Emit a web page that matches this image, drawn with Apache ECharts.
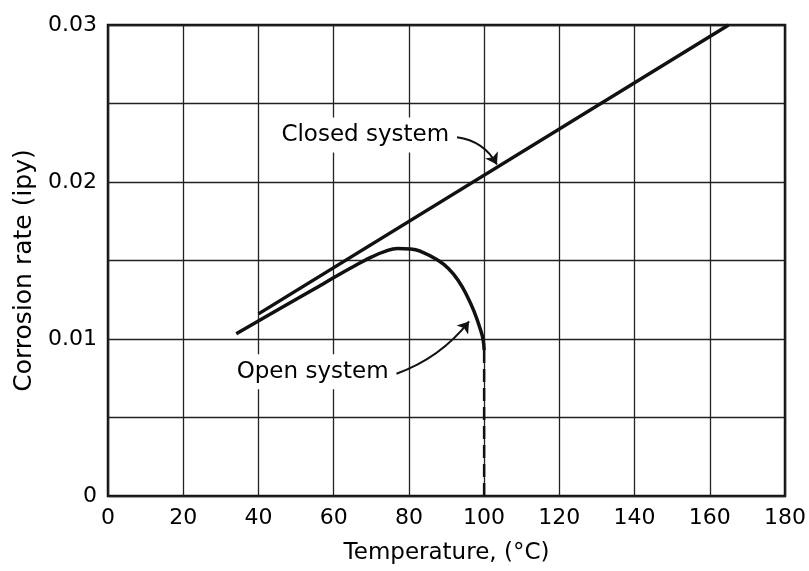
<!DOCTYPE html>
<html>
<head>
<meta charset="utf-8">
<script src="https://cdn.jsdelivr.net/npm/echarts@6/dist/echarts.min.js"></script>
<style>
html,body{margin:0;padding:0;background:#fff;}
#chart{width:809px;height:571px;}
</style>
</head>
<body>
<div id="chart"></div>
<script>
// ---- data ----
var xTickValues = [0, 20, 40, 60, 80, 100, 120, 140, 160, 180];
var yTickLabels = ['0', '0.01', '0.02', '0.03'];
var closedSystem = [[40, 0.0116], [165, 0.030]];
var openSystem = [
  [34.1, 0.01034], [44, 0.01170], [54, 0.01307], [61, 0.01404], [66, 0.01471],
  [70, 0.01521], [73.5, 0.01556], [77, 0.01576], [80.5, 0.01574], [84, 0.01549],
  [87.5, 0.01505], [90.5, 0.01449], [93.2, 0.01370], [95.6, 0.01268], [97.5, 0.01165],
  [98.9, 0.01068], [99.7, 0.0100], [100, 0.0093]
];
var boilingLine = [[100, 0.0093], [100, 0]];
var annotationTexts = ['Closed system', 'Open system'];
var annotationAt = [[68.4, 0.0230], [54.4, 0.00791]];
var arrowFrom = [[92.8, 0.02285], [76.7, 0.00779]];
var arrowTo = [[103.4, 0.02112], [96.0, 0.01112]];

var FONT = "'DejaVu Sans', sans-serif";
var chart = echarts.init(document.getElementById('chart'), null, {renderer: 'canvas'});

chart.setOption({
  animation: false,
  backgroundColor: '#fff',
  grid: {left: 108, right: 23, top: 25, bottom: 75, show: true, borderColor: '#111', borderWidth: 2.5},
  xAxis: {
    type: 'value', min: 0, max: 180, interval: 20,
    name: 'Temperature, (°C)', nameLocation: 'middle', nameGap: 46,
    nameTextStyle: {fontFamily: FONT, fontSize: 23, color: '#000'},
    axisLine: {show: false}, axisTick: {show: false},
    axisLabel: {fontFamily: FONT, fontSize: 22, color: '#000', margin: 11,
      formatter: function (v) { var i = xTickValues.indexOf(v); return i >= 0 ? String(xTickValues[i]) : ''; }},
    splitLine: {show: true, lineStyle: {color: '#222', width: 1.3}}
  },
  yAxis: {
    type: 'value', min: 0, max: 0.03, interval: 0.005,
    name: 'Corrosion rate (ipy)', nameLocation: 'middle', nameGap: 66,
    nameTextStyle: {fontFamily: FONT, fontSize: 25, color: '#000', padding: [0, 20, 0, 0]},
    axisLine: {show: false}, axisTick: {show: false},
    axisLabel: {fontFamily: FONT, fontSize: 22, color: '#000', margin: 11,
      formatter: function (v) {
        var k = Math.round(v / 0.01);
        return Math.abs(v - k * 0.01) < 1e-9 ? yTickLabels[k] : '';
      }},
    splitLine: {show: true, lineStyle: {color: '#222', width: 1.3}}
  },
  series: [
    {
      type: 'line', name: 'Closed system', data: closedSystem,
      symbol: 'none', lineStyle: {color: '#111', width: 3.5}, z: 5
    },
    {
      type: 'line', name: 'Open system', data: openSystem,
      symbol: 'none', smooth: 0.5, lineStyle: {color: '#111', width: 3.5}, z: 5
    },
    {
      type: 'line', name: 'Boiling', data: boilingLine,
      symbol: 'none', lineStyle: {color: '#111', width: 2.5, type: [13, 6]}, z: 5
    },
    {
      type: 'lines', coordinateSystem: 'cartesian2d', z: 6,
      symbol: ['none', 'arrow'], symbolSize: [0, 11],
      lineStyle: {color: '#111', width: 2, opacity: 1},
      data: [
        {coords: [arrowFrom[0], arrowTo[0]], lineStyle: {curveness: 0.25}},
        {coords: [arrowFrom[1], arrowTo[1]], lineStyle: {curveness: -0.145}}
      ]
    },
    {
      type: 'scatter', symbolSize: 0, z: 7,
      itemStyle: {opacity: 1},
      data: annotationAt.map(function (p, i) { return {value: p, name: annotationTexts[i]}; }),
      label: {
        show: true, position: 'inside', formatter: '{b}',
        fontFamily: FONT, fontSize: 23, color: '#000',
        backgroundColor: '#fff', padding: [6, 4]
      }
    }
  ]
});
</script>
</body>
</html>
